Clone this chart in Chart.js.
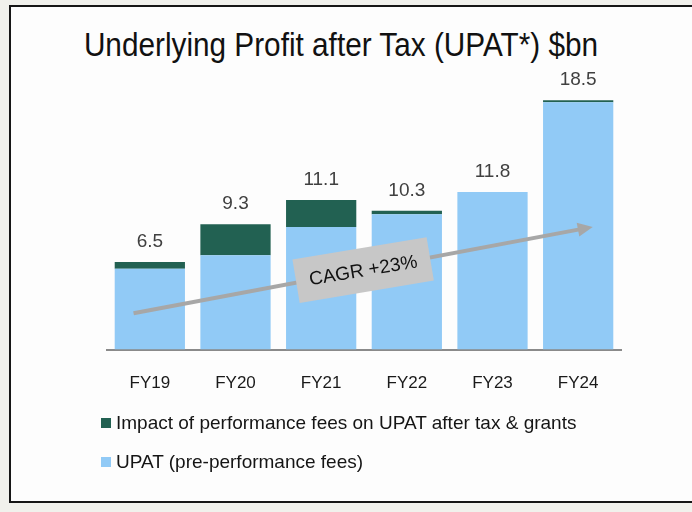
<!DOCTYPE html>
<html>
<head>
<meta charset="utf-8">
<script src="https://cdn.jsdelivr.net/npm/chart.js@4/dist/chart.umd.min.js"></script>
<style>
  html, body { margin: 0; padding: 0; }
  body { width: 692px; height: 512px; background: #f1f1ec; position: relative; overflow: hidden; font-family: "Liberation Sans", Arial, sans-serif; }
  #frame { position: absolute; left: 9px; top: 5px; width: 720px; height: 494px; border: 2px solid #161616; background: #fdfdfd; }
  #title { position: absolute; left: 0; width: 682px; top: 25px; text-align: center; font-size: 34px; color: #111; white-space: nowrap; transform: scaleX(0.875); transform-origin: 341px 0; }
  #chart { position: absolute; left: 0; top: 0; }
  .legend { position: absolute; left: 101px; font-size: 19px; color: #151515; white-space: nowrap; }
  .legend span.box { display: inline-block; width: 10px; height: 10px; margin-right: 5px; vertical-align: 1px; }
</style>
</head>
<body>
<div id="frame"></div>
<div id="title">Underlying Profit after Tax (UPAT*) $bn</div>
<canvas id="chart" width="692" height="512"></canvas>
<div id="legend"></div>
<script>
const categories = ["FY19", "FY20", "FY21", "FY22", "FY23", "FY24"];
// UPAT before performance fees ($bn)
const upatBase = [6.0, 7.0, 9.1, 10.05, 11.7, 18.35];
// impact of performance fees after tax & grants ($bn)
const perfFees = [0.5, 2.3, 2.0, 0.25, 0, 0.15];
// totals printed above the bars
const totalLabels = ["6.5", "9.3", "11.1", "10.3", "11.8", "18.5"];

// CAGR arrow, in (category index, $bn)
const arrowFrom = [-0.19, 2.7];
const arrowTo = [5.17, 9.1];
const arrowText = "CAGR +23%";

const BLUE = "#91caf6";
const GREEN = "#226152";

const totalsPlugin = {
  id: "totals",
  afterDatasetsDraw(chart) {
    const ctx = chart.ctx;
    const top = chart.getDatasetMeta(1).data;
    ctx.save();
    ctx.font = "19px 'Liberation Sans', Arial, sans-serif";
    ctx.fillStyle = "#404040";
    ctx.textAlign = "center";
    ctx.textBaseline = "middle";
    top.forEach((bar, i) => {
      ctx.fillText(totalLabels[i], bar.x, bar.y - 20);
    });
    ctx.restore();
  }
};

const arrowPlugin = {
  id: "cagrArrow",
  afterDatasetsDraw(chart) {
    const xs = chart.scales.x, ys = chart.scales.y;
    const x1 = xs.getPixelForValue(arrowFrom[0]), y1 = ys.getPixelForValue(arrowFrom[1]);
    const x2 = xs.getPixelForValue(arrowTo[0]), y2 = ys.getPixelForValue(arrowTo[1]);
    const ang = Math.atan2(y2 - y1, x2 - x1);
    const ctx = chart.ctx;
    ctx.save();
    ctx.strokeStyle = "#a7a7a7";
    ctx.fillStyle = "#a7a7a7";
    ctx.lineWidth = 4;
    ctx.beginPath();
    ctx.moveTo(x1, y1);
    ctx.lineTo(x2 - 12 * Math.cos(ang), y2 - 12 * Math.sin(ang));
    ctx.stroke();
    // head
    ctx.translate(x2, y2);
    ctx.rotate(ang);
    ctx.beginPath();
    ctx.moveTo(0, 0);
    ctx.lineTo(-15, -7);
    ctx.lineTo(-15, 7);
    ctx.closePath();
    ctx.fill();
    ctx.restore();

    // label box on the middle of the arrow
    const mx = (x1 + x2) / 2, my = (y1 + y2) / 2;
    ctx.save();
    ctx.translate(mx, my);
    ctx.rotate(ang + 0.02);
    ctx.fillStyle = "#c7c7c7";
    ctx.fillRect(-68, -22, 136, 44);
    ctx.fillStyle = "#111";
    ctx.font = "19px 'Liberation Sans', Arial, sans-serif";
    ctx.textAlign = "center";
    ctx.textBaseline = "middle";
    ctx.fillText(arrowText, 0, 1);
    ctx.restore();
  }
};

const chart = new Chart(document.getElementById("chart"), {
  type: "bar",
  data: {
    labels: categories,
    datasets: [
      { label: "UPAT (pre-performance fees)", data: upatBase, backgroundColor: BLUE, borderWidth: 0 },
      { label: "Impact of performance fees on UPAT after tax & grants", data: perfFees, backgroundColor: GREEN, borderWidth: 0 }
    ]
  },
  options: {
    responsive: false,
    animation: false,
    events: [],
    datasets: { bar: { categoryPercentage: 1, barPercentage: 0.82 } },
    layout: { padding: { left: 107, right: 71, top: 80, bottom: 94 } },
    plugins: {
      legend: { display: false },
      tooltip: { enabled: false },
      title: { display: false }
    },
    scales: {
      x: {
        stacked: true,
        grid: { display: false, drawTicks: false },
        border: { display: true, color: "#8a8a8a", width: 2 },
        ticks: { color: "#1a1a1a", padding: 24, font: { size: 17, family: "'Liberation Sans', Arial, sans-serif" } }
      },
      y: {
        stacked: true,
        display: false,
        min: 0,
        max: 20
      }
    }
  },
  plugins: [arrowPlugin, totalsPlugin]
});

// legend, top item is the green series
const legendEl = document.getElementById("legend");
[[1, 412], [0, 451]].forEach(([di, top]) => {
  const ds = chart.data.datasets[di];
  const row = document.createElement("div");
  row.className = "legend";
  row.style.top = top + "px";
  row.innerHTML = '<span class="box" style="background:' + ds.backgroundColor + '"></span>' + ds.label.replace("&", "&amp;");
  legendEl.appendChild(row);
});
</script>
</body>
</html>
